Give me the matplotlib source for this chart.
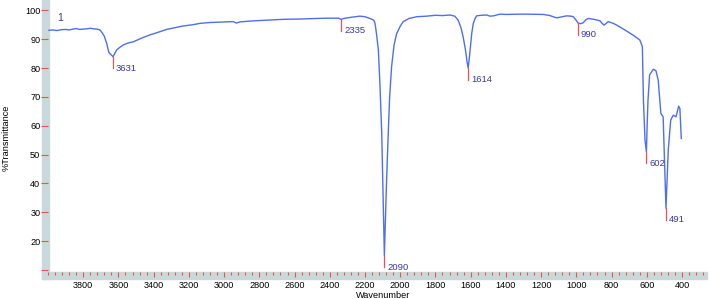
import matplotlib
matplotlib.use("Agg")
import matplotlib.pyplot as plt
from matplotlib.patches import Rectangle
import numpy as np

plt.rcParams['font.family'] = ['Liberation Sans', 'DejaVu Sans']

# IR spectrum (wavenumber, %T)
wavenumber = [3995, 3970, 3950, 3925, 3900, 3880, 3860, 3840, 3820, 3800,
              3780, 3760, 3740, 3720, 3705, 3690, 3680, 3667, 3655, 3645,
              3636, 3631, 3620, 3610, 3590, 3573, 3550, 3516, 3490, 3460,
              3421, 3380, 3326, 3280, 3232, 3180, 3137, 3080, 3000, 2948,
              2930, 2910, 2853, 2760, 2664, 2570, 2475, 2400, 2350, 2335,
              2320, 2280, 2229, 2200, 2172, 2150, 2143, 2135, 2124, 2115,
              2105, 2095, 2090, 2085, 2078, 2068, 2060, 2049, 2035, 2020,
              2000, 1983, 1950, 1907, 1850, 1800, 1760, 1718, 1690, 1671,
              1655, 1643, 1630, 1620, 1614, 1605, 1594, 1585, 1575, 1566,
              1540, 1509, 1490, 1470, 1434, 1400, 1300, 1188, 1150, 1112,
              1080, 1055, 1030, 1017, 1000, 990, 975, 961, 945, 932,
              900, 866, 855, 843, 830, 819, 790, 771, 724, 677,
              639, 625, 619, 610, 602, 598, 593, 584, 563, 548,
              535, 520, 507, 498, 491, 484, 478, 464, 449, 434,
              419, 412, 404]
transmittance = [93.1, 93.2, 93.0, 93.3, 93.4, 93.2, 93.5, 93.7, 93.4, 93.5,
                 93.6, 93.8, 93.6, 93.5, 93.2, 92.0, 91.0, 88.6, 85.5, 84.8,
                 84.3, 83.9, 85.2, 86.3, 87.3, 88.0, 88.6, 89.1, 89.8, 90.6,
                 91.5, 92.3, 93.4, 94.0, 94.6, 95.0, 95.5, 95.8, 96.0, 96.1,
                 95.6, 96.0, 96.3, 96.6, 96.9, 97.0, 97.2, 97.3, 97.3, 96.9,
                 97.2, 97.6, 98.0, 97.8, 97.2, 96.6, 95.5, 92.0, 86.3, 74.0,
                 57.5, 30.0, 14.9, 25.0, 40.0, 57.4, 70.0, 80.5, 88.0, 92.0,
                 94.5, 96.1, 97.2, 97.8, 98.0, 98.3, 98.2, 98.4, 98.0, 96.6,
                 94.0, 90.9, 86.5, 82.0, 80.0, 85.0, 92.0, 95.5, 97.2, 98.1,
                 98.3, 98.4, 98.0, 98.1, 98.7, 98.6, 98.7, 98.6, 98.2, 97.4,
                 97.8, 98.1, 98.0, 97.8, 96.5, 95.6, 95.4, 95.7, 96.8, 97.2,
                 96.9, 96.4, 95.6, 94.9, 95.5, 96.1, 95.5, 94.9, 93.2, 91.4,
                 89.7, 87.4, 68.9, 55.0, 51.0, 60.0, 68.9, 77.6, 79.6, 79.1,
                 75.8, 64.3, 63.1, 45.0, 31.4, 42.0, 51.6, 62.0, 63.7, 63.1,
                 66.8, 66.0, 55.6]

# marked peaks
peak_pos = [3631, 2335, 2090, 1614, 990, 602, 491]
peak_T = [83.9, 96.9, 14.9, 80.0, 95.6, 51.0, 31.4]

x_major = list(range(3800, 399, -200))
y_ticks = list(range(10, 101, 10))
y_labels = [str(v) if v > 10 else '' for v in y_ticks]

W, H = 709, 299
fig = plt.figure(figsize=(W / 100, H / 100), dpi=100)
ax = fig.add_axes([48 / W, 1 - 272 / H, (707 - 48) / W, 272 / H])
ax.patch.set_visible(False)

band = '#c9d8d9'
fig.patches.append(Rectangle((41.7 / W, 1 - 279 / H), 7.5 / W, 279 / H,
                             transform=fig.transFigure, color=band, zorder=-1))
fig.patches.append(Rectangle((41.7 / W, 1 - 279 / H), (707 - 41.7) / W, 7 / H,
                             transform=fig.transFigure, color=band, zorder=-1))

ax.plot(wavenumber, transmittance, color='#4f6ef2', lw=1.0)

red = '#f05050'
for w, t in zip(peak_pos, peak_T):
    ax.plot([w, w], [t, t - 4], color=red, lw=0.9)
    ax.annotate(str(w), xy=(w, t - 4), xytext=(2, 0), textcoords='offset points',
                va='center', ha='left', fontsize=6.8, color='#3a3a9c')

ax.text(3932, 97.3, '1', fontsize=7.5, color='#3a3a9c', ha='center', va='center')

ax.set_xlim(4000, 258)
ax.set_ylim(9.3, 103.6)

for s in ax.spines.values():
    s.set_visible(False)

ax.set_xticks(x_major)
ax.set_xticks([v for v in range(4000, 259, -40) if v not in x_major], minor=True)
ax.set_yticks(y_ticks)
ax.set_yticklabels(y_labels)

ax.tick_params(axis='x', which='major', direction='out', length=3.6, width=0.8,
               color=red, labelsize=6.6, pad=3)
ax.tick_params(axis='x', which='minor', direction='out', length=2.2, width=0.8,
               color=red)
ax.tick_params(axis='y', direction='out', length=5, width=0.8, color=red,
               labelsize=6.6, pad=0.5)

fig.text(383.5 / W, 1 - 296 / H, 'Wavenumber', fontsize=6.6, ha='center', va='center')
fig.text(6 / W, 1 - 138 / H, '%Transmittance', fontsize=6.6, rotation=90,
         ha='center', va='center')

fig.savefig('out.png', dpi=100)
